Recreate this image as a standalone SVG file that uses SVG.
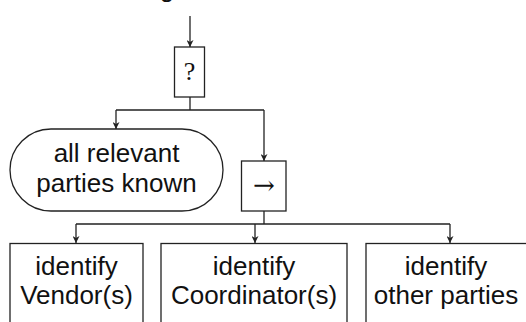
<svg xmlns="http://www.w3.org/2000/svg" width="526" height="322" viewBox="0 0 526 322">
<style>
.box{fill:#fff;stroke:#222;stroke-width:1.3}
.ln{fill:none;stroke:#222;stroke-width:1.3}
.t{font-family:"Liberation Sans",Arial,sans-serif;font-size:26px;fill:#111;text-anchor:middle}
.s{font-family:"Liberation Serif","DejaVu Serif",serif;font-size:26px;fill:#111;text-anchor:middle}
.a{font-family:"DejaVu Serif",serif;font-size:26px;fill:#111;text-anchor:middle}
</style>
<defs>
<marker id="ah" viewBox="0 0 10 10" refX="10" refY="5" markerWidth="7" markerHeight="7" markerUnits="userSpaceOnUse" orient="auto">
<path d="M0,0 L10,5 L0,10 L3,5 Z" fill="#222"/>
</marker>
</defs>
<text class="t" x="167" y="-3">g</text>
<g id="connectors">
<path class="ln" d="M190,16 V47" marker-end="url(#ah)"/>
<path class="ln" d="M190,97 V110 M116,110 H264"/>
<path class="ln" d="M116,110 V129" marker-end="url(#ah)"/>
<path class="ln" d="M264,110 V161" marker-end="url(#ah)"/>
<path class="ln" d="M264,211 V224 M76,224 H450"/>
<path class="ln" d="M76,224 V243" marker-end="url(#ah)"/>
<path class="ln" d="M255,224 V243" marker-end="url(#ah)"/>
<path class="ln" d="M450,224 V243" marker-end="url(#ah)"/>
</g>
<g id="decision">
<rect class="box" x="174.5" y="47" width="30" height="50"/>
<text class="s" x="189.5" y="80">?</text>
</g>
<g id="known">
<rect class="box" x="10" y="129" width="213" height="82" rx="41" ry="41"/>
<text class="t" x="116.5" y="162">all relevant</text>
<text class="t" x="116.5" y="192">parties known</text>
</g>
<g id="seq">
<rect class="box" x="241.5" y="161" width="44.5" height="50"/>
<text class="a" x="264" y="194">→</text>
</g>
<g id="vendor">
<rect class="box" x="10" y="243.5" width="133" height="90"/>
<text class="t" x="76.5" y="275">identify</text>
<text class="t" x="76.5" y="304">Vendor(s)</text>
</g>
<g id="coordinator">
<rect class="box" x="161" y="243.5" width="186" height="90"/>
<text class="t" x="254" y="275">identify</text>
<text class="t" x="254" y="304">Coordinator(s)</text>
</g>
<g id="other">
<rect class="box" x="366" y="243.5" width="170" height="90"/>
<text class="t" x="446" y="275">identify</text>
<text class="t" x="446" y="304">other parties</text>
</g>
</svg>
